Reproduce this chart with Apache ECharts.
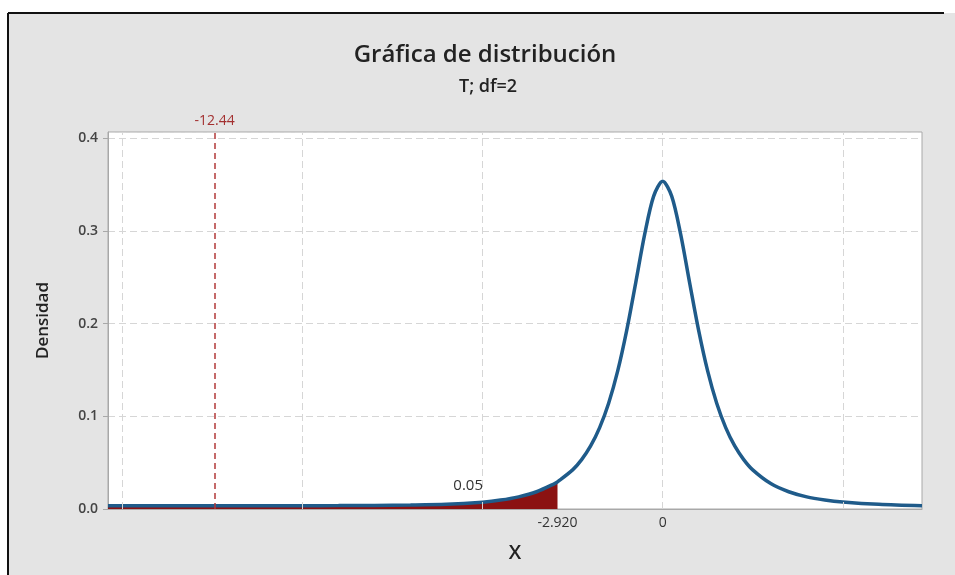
<!DOCTYPE html>
<html>
<head>
<meta charset="utf-8">
<script src="https://cdn.jsdelivr.net/npm/echarts@6/dist/echarts.min.js"></script>
<style>
html,body{margin:0;padding:0;background:#ffffff;}
#chart{width:955px;height:575px;}
</style>
</head>
<body>
<div id="chart"></div>
<script>
// ---- data ----
const xValues = [-15.4, -14, -12, -10, -9, -8, -7, -6, -5, -4.5, -4, -3.5, -3, -2.92,
  -2.5, -2.25, -2, -1.75, -1.5, -1.25, -1, -0.75, -0.5, -0.25, 0,
  0.25, 0.5, 0.75, 1, 1.25, 1.5, 1.75, 2, 2.25, 2.5, 3, 3.5, 4, 4.5, 5, 6, 7.2];
const densityValues = [0.0034, 0.0034, 0.0035, 0.0036, 0.0037, 0.0039, 0.0042, 0.0050, 0.0074, 0.0096, 0.0131, 0.0186, 0.0274, 0.0293,
  0.0422, 0.0533, 0.0680, 0.0878, 0.1141, 0.1487, 0.1925, 0.2438, 0.2963, 0.3376, 0.3536,
  0.3376, 0.2963, 0.2438, 0.1925, 0.1487, 0.1141, 0.0878, 0.0680, 0.0533, 0.0422, 0.0274, 0.0186, 0.0131, 0.0098, 0.0076, 0.0050, 0.0034];
const criticalValue = -2.920;
const tailProbability = '0.05';
const referenceValue = -12.44;
const xGridValues = [-15, -10, -5, 0, 5];
const xTickValues = [-2.92, 0];
const xRange = [-15.4, 7.2];
const yRange = [0, 0.4068];

const curveData = xValues.map((x, i) => [x, densityValues[i]]);
const tailData = curveData.filter(p => p[0] <= criticalValue + 1e-9);

const chart = echarts.init(document.getElementById('chart'));
const FONT = '"Open Sans", "Noto Sans", sans-serif';
chart.setOption({
  animation: false,
  backgroundColor: '#ffffff',
  graphic: [
    { type: 'rect', z: -10, shape: { x: 8, y: 13, width: 960, height: 580 },
      style: { fill: '#e4e4e4', stroke: null } },
    { type: 'line', z: -9, shape: { x1: 8, y1: 13, x2: 944, y2: 13 }, style: { stroke: '#111', lineWidth: 2 } },
    { type: 'line', z: -9, shape: { x1: 8, y1: 13, x2: 8, y2: 580 }, style: { stroke: '#111', lineWidth: 2 } },
    { type: 'text', z: 10, style: { x: 485, y: 55, text: 'Gráfica de distribución', textAlign: 'center', textVerticalAlign: 'middle',
      font: '600 24px ' + FONT, fill: '#222' } },
    { type: 'text', z: 10, style: { x: 488, y: 87, text: 'T; df=2', textAlign: 'center', textVerticalAlign: 'middle',
      font: '600 18px ' + FONT, fill: '#222' } }
  ],
  grid: { left: 108, right: 33, top: 132, bottom: 66, show: true, backgroundColor: '#ffffff',
    borderColor: '#a8a8a8', borderWidth: 1, containLabel: false },
  xAxis: {
    type: 'value', min: xRange[0], max: xRange[1],
    name: 'X', nameLocation: 'middle', nameGap: 34,
    nameTextStyle: { fontFamily: FONT, fontSize: 20, fontWeight: 600, color: '#222' },
    axisLine: { show: true, onZero: false, lineStyle: { color: '#a8a8a8' } },
    axisTick: { show: false },
    splitLine: { show: false },
    axisLabel: { customValues: xTickValues, margin: 7, fontFamily: FONT, fontSize: 14, color: '#333',
      formatter: v => (Math.abs(v) < 1e-9 ? '0' : v.toFixed(3)) }
  },
  yAxis: {
    type: 'value', min: yRange[0], max: yRange[1], interval: 0.1,
    name: 'Densidad', nameLocation: 'middle', nameGap: 56, nameRotate: 90,
    nameTextStyle: { fontFamily: FONT, fontSize: 17, fontWeight: 600, color: '#222' },
    axisLine: { show: true, onZero: false, lineStyle: { color: '#a8a8a8' } },
    axisTick: { show: true, inside: false, length: 5, lineStyle: { color: '#a8a8a8' } },
    splitLine: { show: true, lineStyle: { color: '#d6d6d6', type: [7, 4], width: 1 } },
    axisLabel: { margin: 10, fontFamily: FONT, fontSize: 14, fontWeight: 600, color: '#444',
      formatter: v => v.toFixed(1) }
  },
  series: [
    {
      type: 'line', data: [], z: 1, silent: true,
      markLine: { silent: true, symbol: 'none', label: { show: false },
        lineStyle: { color: '#d6d6d6', type: [7, 4], width: 1 },
        data: xGridValues.map(v => ({ xAxis: v })) }
    },
    {
      type: 'line', data: tailData, z: 2, showSymbol: false, smooth: 0.3, silent: true,
      lineStyle: { width: 0 }, areaStyle: { color: '#8b1212', opacity: 1 },
      markPoint: { silent: true, symbol: 'rect', symbolSize: 1,
        itemStyle: { color: 'rgba(0,0,0,0)' },
        label: { show: true, formatter: tailProbability, position: 'inside', fontFamily: FONT, fontSize: 15, color: '#333' },
        data: [{ coord: [-5.4, 0.025] }] }
    },
    {
      type: 'line', data: curveData, z: 3, showSymbol: false, smooth: 0.3, silent: true,
      lineStyle: { color: '#1f5b8a', width: 3.5 },
      markLine: { silent: true, symbol: 'none',
        lineStyle: { color: '#b23a3a', type: [6, 4], width: 1.5 },
        label: { show: true, position: 'end', formatter: String(referenceValue), distance: 4,
          fontFamily: FONT, fontSize: 14, color: '#a33030' },
        data: [{ xAxis: referenceValue }] }
    }
  ]
});
</script>
</body>
</html>
